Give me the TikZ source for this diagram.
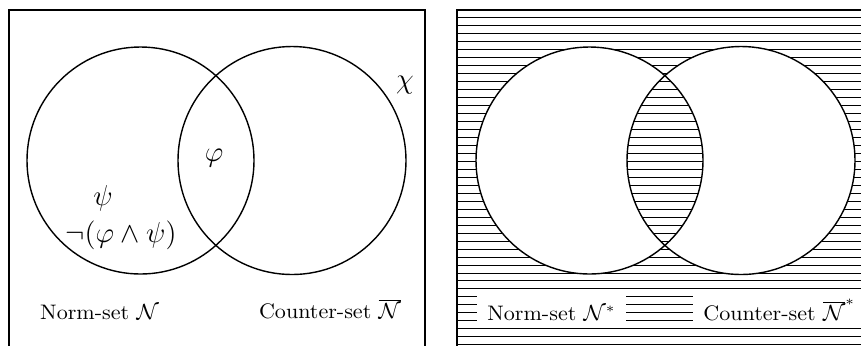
\documentclass[tikz,border=0pt]{standalone}
\begin{document}
\begin{tikzpicture}[x=0.5pt,y=-0.5pt,
  frame/.style={line width=0.9pt},
  ring/.style={line width=0.7pt},
  hatch/.style={line width=0.5pt},
  txt/.style={font=\fontsize{10.5}{12}\selectfont, inner sep=0pt},
  mathlbl/.style={font=\fontsize{14}{16}\selectfont, inner sep=0pt},
  lbl/.style={txt, fill=white, text height=8pt, text depth=0pt, inner ysep=4pt, inner xsep=5pt}]
\useasboundingbox (0,0) rectangle (861,345);
% ---------- left panel ----------
\draw[frame] (9,10) rectangle (425,360);
\draw[ring] (140.5,160.5) circle[radius=113.5];
\draw[ring] (292,160.5) circle[radius=114];
\node[mathlbl] (chi) at (405,85) {$\chi$};
\node[mathlbl] (phi) at (214,158) {$\varphi$};
\node[mathlbl] (psi) at (103,198) {$\psi$};
\node[mathlbl] (neg) at (121,235) {$\neg(\varphi\wedge\psi)$};
\node[txt, anchor=base] (norm) at (99.5,319) {\scalebox{1.05}[1]{Norm-set $\mathcal{N}$}};
\node[txt, anchor=base] (counter) at (330,318) {\scalebox{1.05}[1]{Counter-set $\overline{\mathcal{N}}$}};
% ---------- right panel ----------
\begin{scope}
  \clip (457,10) rectangle (874,360);
  \foreach \k in {0,...,43} \draw[hatch] (457,{10+7.97*\k}) -- (874,{10+7.97*\k});
\end{scope}
\fill[white] (589.5,160.5) circle[radius=113.5];
\fill[white] (741,160.5) circle[radius=114];
\begin{scope}
  \clip (589.5,160.5) circle[radius=113.5];
  \clip (741,160.5) circle[radius=114];
  \foreach \k in {0,...,43} \draw[hatch] (457,{10+7.97*\k}) -- (874,{10+7.97*\k});
\end{scope}
\draw[ring] (589.5,160.5) circle[radius=113.5];
\draw[ring] (741,160.5) circle[radius=114];
\draw[frame] (457,10) rectangle (874,360);
\node[lbl, anchor=base] (norm2) at (551.5,320) {\scalebox{1.05}[1]{Norm-set $\mathcal{N}^*$}};
\node[lbl, anchor=base west] (counter2) at (693,320) {\scalebox{1.05}[1]{Counter-set $\overline{\mathcal{N}}^*$}};
\end{tikzpicture}
\end{document}
